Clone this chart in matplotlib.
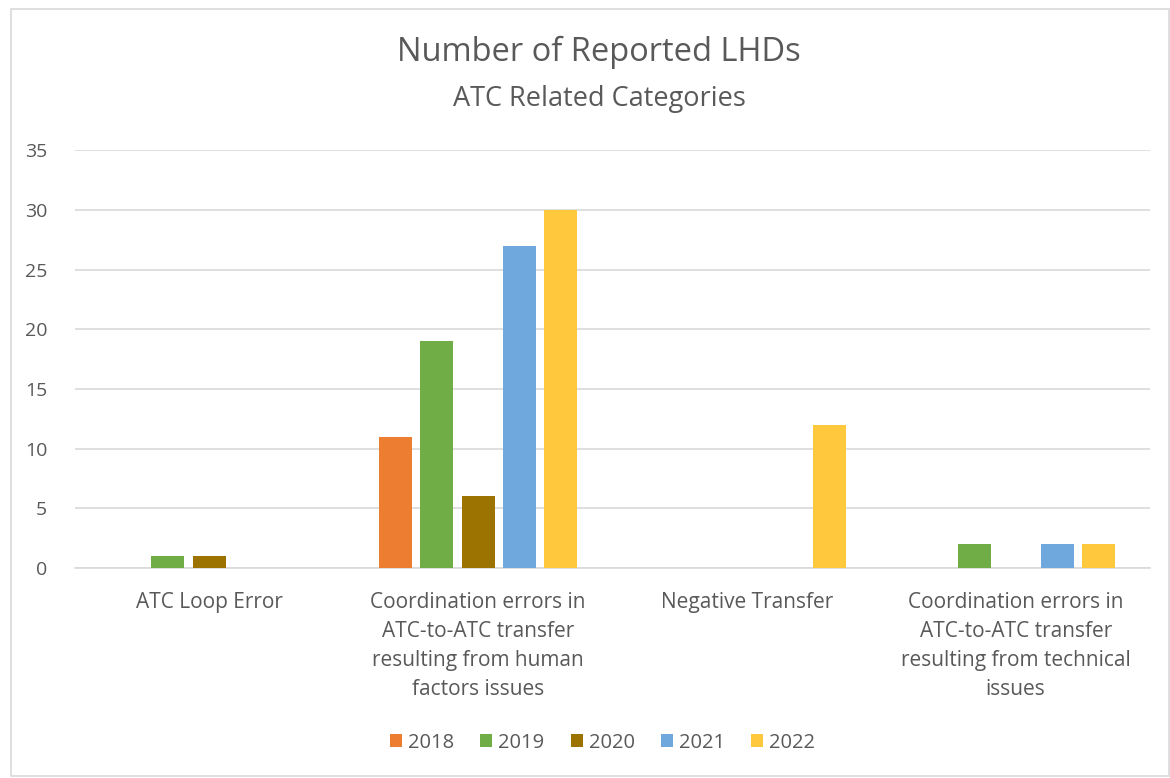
import matplotlib.pyplot as plt
import matplotlib.patches as mpatches
import numpy as np

# Data to plot
categories = [
    'ATC Loop Error',
    'Coordination errors in\nATC-to-ATC transfer\nresulting from human\nfactors issues',
    'Negative Transfer',
    'Coordination errors in\nATC-to-ATC transfer\nresulting from technical\nissues',
]
years = ['2018', '2019', '2020', '2021', '2022']
counts_2018 = [0, 11, 0, 0]
counts_2019 = [1, 19, 0, 2]
counts_2020 = [1, 6, 0, 0]
counts_2021 = [0, 27, 0, 2]
counts_2022 = [0, 30, 12, 2]
series = [counts_2018, counts_2019, counts_2020, counts_2021, counts_2022]
colors = ['#ED7D31', '#70AD47', '#9C7300', '#6FA8DC', '#FFC83D']

plt.rcParams['font.family'] = ['Open Sans', 'DejaVu Sans']
text_col = '#595959'

fig = plt.figure(figsize=(11.7, 7.78), dpi=100)
ax = fig.add_axes([0.064, 0.270, 0.919, 0.537])

index = np.arange(len(categories))
step = 0.154
bar_width = 0.123

for i, (vals, year, col) in enumerate(zip(series, years, colors)):
    ax.bar(index + (i - 2) * step, vals, bar_width, color=col, label=year, zorder=3)

ax.set_xlim(-0.5, 3.5)
ax.set_ylim(0, 35)
ax.set_yticks(range(0, 36, 5))
ax.grid(axis='y', color='#D9D9D9', linewidth=1.2, zorder=0)
for s in ['top', 'right', 'left']:
    ax.spines[s].set_visible(False)
ax.spines['bottom'].set_color('#D9D9D9')
ax.spines['bottom'].set_linewidth(1.2)

ax.set_xticks(index)
ax.set_xticklabels(categories, fontsize=15, color=text_col, linespacing=1.5, va='top')
ax.tick_params(axis='x', length=0, pad=17)
ax.tick_params(axis='y', length=0, labelsize=14, labelcolor=text_col, pad=20)

# title and subtitle
fig.text(0.512, 0.933, 'Number of Reported LHDs', ha='center', va='center',
         fontsize=23.5, color=text_col)
fig.text(0.512, 0.873, 'ATC Related Categories', ha='center', va='center',
         fontsize=19.5, color=text_col)

# legend
fig.legend(loc='center', bbox_to_anchor=(0.515, 0.045), ncol=5, frameon=False,
           fontsize=14.5, labelcolor=text_col, handlelength=0.6, handleheight=0.6,
           handletextpad=0.3, columnspacing=1.3)

# outer chart border
fig.patches.append(mpatches.Rectangle((0.009, 0.003), 0.99, 0.985, transform=fig.transFigure,
                                      fill=False, edgecolor='#D9D9D9', linewidth=1.2))

plt.savefig('out.png', dpi=100)
